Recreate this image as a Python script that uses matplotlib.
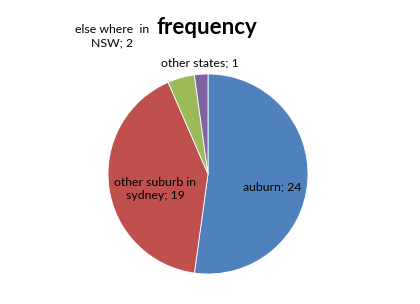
import matplotlib
matplotlib.use("Agg")
import matplotlib.pyplot as plt

categories = ["auburn", "other suburb in\nsydney", "else where  in\nNSW", "other states"]
values = [24, 19, 2, 1]
colors = ["#4F81BD", "#C0504D", "#9BBB59", "#8064A2"]
title = "frequency"

plt.rcParams['font.family'] = ['Lato', 'DejaVu Sans']

fig = plt.figure(figsize=(4.2, 3.04), dpi=100)
ax = fig.add_axes([108/420, (304-274)/304, 200/420, 200/304])
ax.pie(values, colors=colors, startangle=90, counterclock=False,
       wedgeprops=dict(edgecolor="white", linewidth=0.6), radius=1)
ax.set_xlim(-1, 1)
ax.set_ylim(-1, 1)
ax.set_aspect('auto')

def px(x, y):
    return x/420, 1 - y/304

label_pos = [(272, 187), (155, 189), (112, 36), (200, 63)]
for cat, v, (x, y) in zip(categories, values, label_pos):
    fig.text(*px(x, y), f"{cat}; {v}", ha="center", va="center",
             fontsize=8.8, color="black", linespacing=1.3)

fig.text(*px(207, 27), title, ha="center", va="center", fontsize=16,
         fontweight="bold")

fig.savefig("out.png", dpi=100, facecolor="white")
